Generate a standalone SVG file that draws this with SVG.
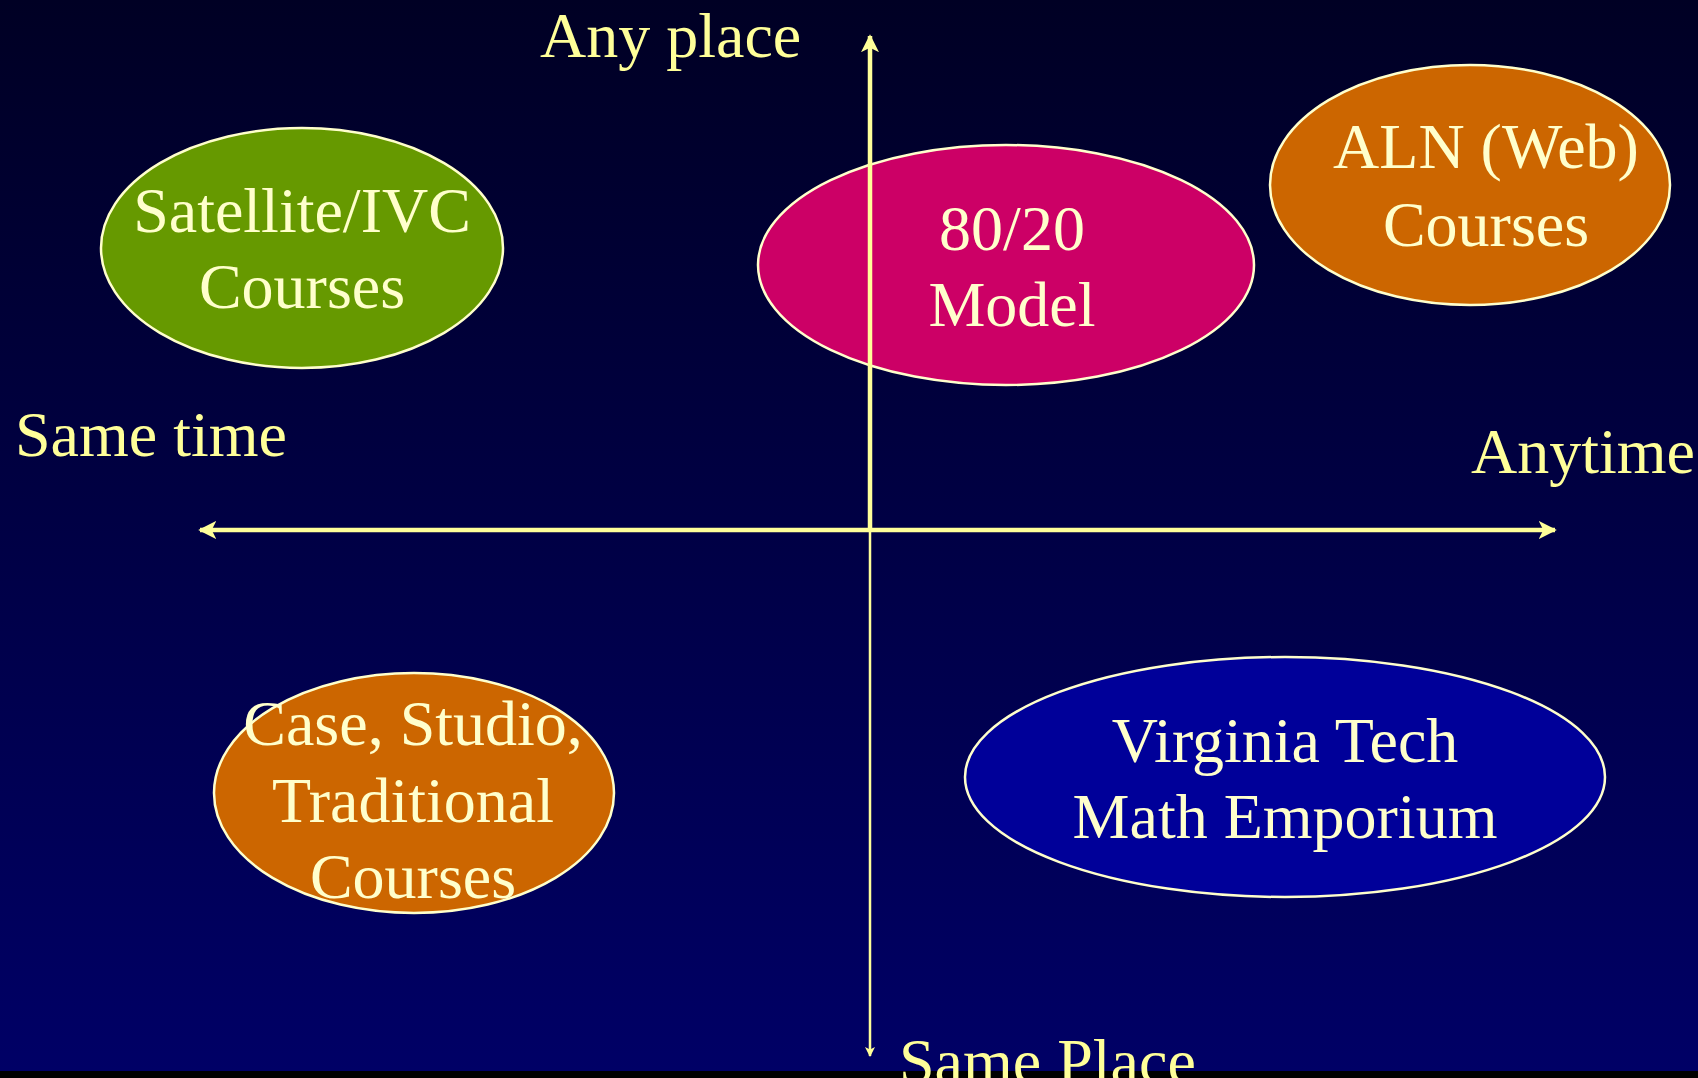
<svg xmlns="http://www.w3.org/2000/svg" width="1698" height="1078" viewBox="0 0 1698 1078">
<defs>
<linearGradient id="bg" x1="0" y1="0" x2="0" y2="1">
<stop offset="0" stop-color="#000024"/>
<stop offset="1" stop-color="#000066"/>
</linearGradient>
<marker id="ah" viewBox="0 0 10 10" refX="9" refY="5" markerWidth="4" markerHeight="4" orient="auto" markerUnits="strokeWidth">
<path d="M0,0 L10,5 L0,10 L2.5,5 z" fill="#FFFF99"/>
</marker>
<style>
.t{font-family:"Liberation Serif","Times New Roman",serif;font-size:64px;}
.n{fill:#FFFFCC;text-anchor:middle;}
.a{fill:#FFFF99;}
.e{stroke:#FFFFCC;stroke-width:2.5;}
.c{stroke:#FFFF99;fill:none;}
</style>
</defs>
<rect x="0" y="0" width="1698" height="1071" fill="url(#bg)"/>
<rect x="0" y="1071" width="1698" height="7" fill="#000000"/>

<g id="satellite">
<ellipse class="e" cx="302" cy="248" rx="201" ry="120" fill="#669900"/>
<text class="t n" x="302" y="232">Satellite/IVC</text>
<text class="t n" x="302" y="308">Courses</text>
</g>
<g id="model8020">
<ellipse class="e" cx="1006" cy="265" rx="248" ry="120" fill="#CC0066"/>
<text class="t n" x="1012" y="250">80/20</text>
<text class="t n" x="1012" y="326">Model</text>
</g>
<g id="aln">
<ellipse class="e" cx="1470" cy="185" rx="200" ry="120" fill="#CC6600"/>
<text class="t n" x="1486" y="168">ALN (Web)</text>
<text class="t n" x="1486" y="246">Courses</text>
</g>
<g id="case">
<ellipse class="e" cx="414" cy="793" rx="200" ry="120" fill="#CC6600"/>
<text class="t n" x="413" y="745">Case, Studio,</text>
<text class="t n" x="413" y="822">Traditional</text>
<text class="t n" x="413" y="898">Courses</text>
</g>
<g id="virginia">
<ellipse class="e" cx="1285" cy="777" rx="320" ry="120" fill="#000099"/>
<text class="t n" x="1285" y="762">Virginia Tech</text>
<text class="t n" x="1285" y="838">Math Emporium</text>
</g>

<g id="connectors">
<line class="c" x1="870" y1="530" x2="870" y2="36" stroke-width="4.5" marker-end="url(#ah)"/>
<line class="c" x1="870" y1="530" x2="870" y2="1056" stroke-width="2.5" marker-end="url(#ah)"/>
<line class="c" x1="870" y1="530" x2="200" y2="530" stroke-width="4.5" marker-end="url(#ah)"/>
<line class="c" x1="870" y1="530" x2="1555" y2="530" stroke-width="4.5" marker-end="url(#ah)"/>
</g>

<g id="labels">
<text class="t a" x="540" y="57">Any place</text>
<text class="t a" x="15" y="456">Same time</text>
<text class="t a" x="1471" y="473">Anytime</text>
<text class="t a" x="899" y="1083">Same Place</text>
</g>
</svg>
